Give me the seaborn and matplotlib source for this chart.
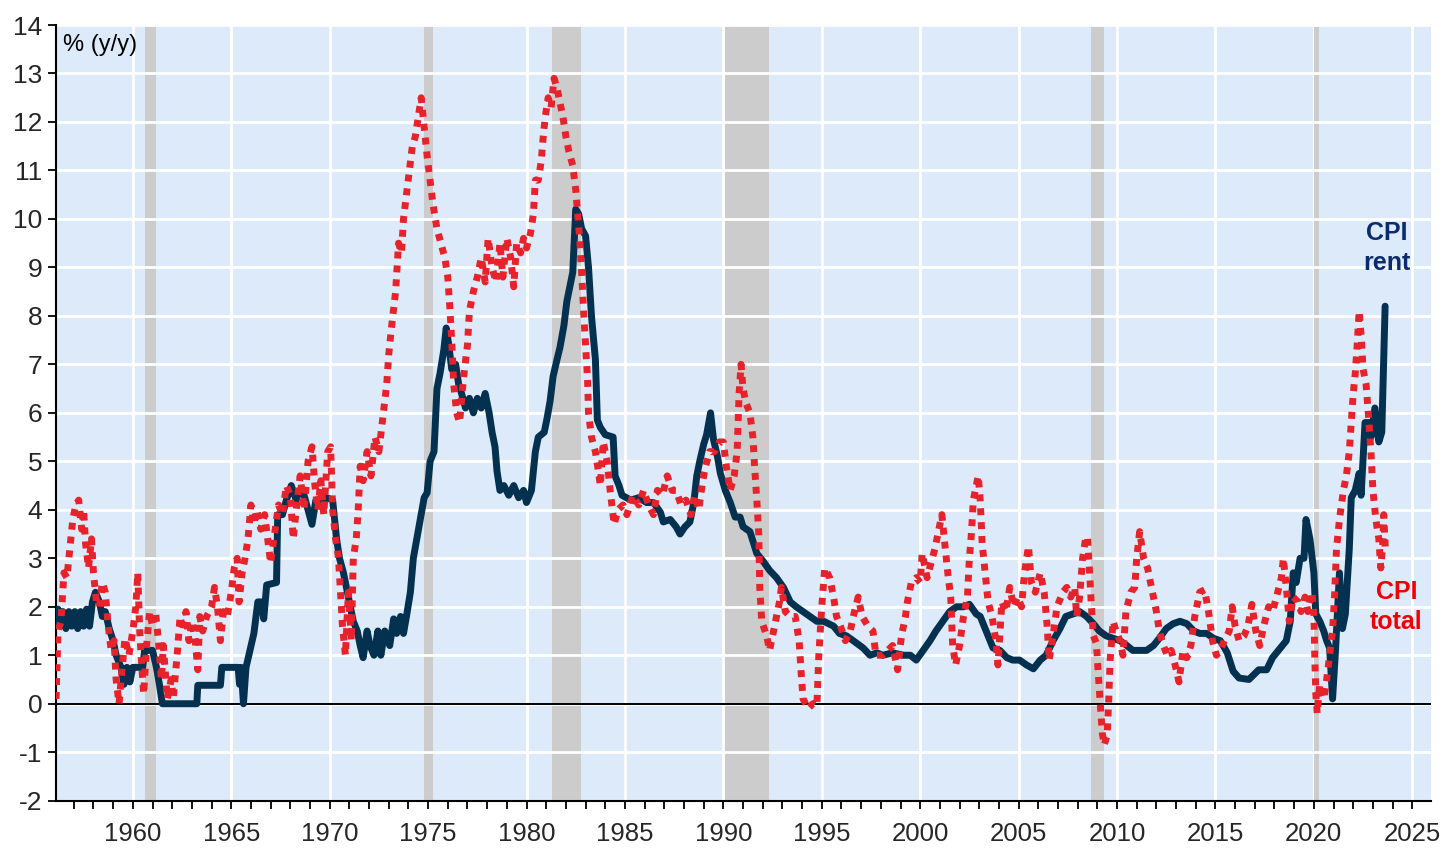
import numpy as np
import pandas as pd
import matplotlib
matplotlib.use("Agg")
import matplotlib.pyplot as plt
from matplotlib.ticker import MultipleLocator
import seaborn as sns

# CPI rent, % y/y (decimal years)
rent_year = [1956.10, 1956.20, 1956.30, 1956.45, 1956.60, 1956.75, 1956.90, 1957.05, 1957.20, 1957.35,
             1957.50, 1957.65, 1957.80, 1957.95, 1958.10, 1958.30, 1958.45, 1958.60, 1958.80, 1959.00,
             1959.15, 1959.40, 1959.55, 1959.70, 1959.85, 1960.00, 1960.50, 1960.60, 1961.00, 1961.20,
             1961.35, 1961.50, 1963.25, 1963.30, 1964.45, 1964.52, 1965.35, 1965.42, 1965.50, 1965.62,
             1965.75, 1965.95, 1966.15, 1966.35, 1966.55, 1966.65, 1966.80, 1967.30, 1967.36, 1967.60,
             1967.80, 1968.05, 1968.30, 1968.45, 1968.70, 1968.90, 1969.10, 1969.30, 1969.60, 1969.85,
             1970.15, 1970.35, 1970.50, 1970.70, 1970.90, 1971.05, 1971.20, 1971.40, 1971.55, 1971.70,
             1971.90, 1972.05, 1972.25, 1972.45, 1972.60, 1972.80, 1973.05, 1973.25, 1973.40, 1973.60,
             1973.75, 1973.90, 1974.10, 1974.25, 1974.45, 1974.60, 1974.80, 1974.95, 1975.10, 1975.30,
             1975.45, 1975.60, 1975.80, 1975.92, 1976.05, 1976.20, 1976.40, 1976.55, 1976.70, 1976.90,
             1977.10, 1977.30, 1977.50, 1977.70, 1977.90, 1978.10, 1978.25, 1978.40, 1978.50, 1978.65,
             1978.85, 1979.10, 1979.35, 1979.60, 1979.85, 1980.00, 1980.25, 1980.45, 1980.60, 1980.90,
             1981.05, 1981.20, 1981.35, 1981.55, 1981.70, 1981.90, 1982.05, 1982.20, 1982.35, 1982.50,
             1982.65, 1982.80, 1983.00, 1983.15, 1983.30, 1983.50, 1983.60, 1983.75, 1984.00, 1984.40,
             1984.50, 1984.70, 1984.85, 1985.30, 1985.70, 1986.10, 1986.45, 1986.80, 1986.95, 1987.30,
             1987.60, 1987.80, 1988.05, 1988.30, 1988.50, 1988.65, 1988.80, 1989.00, 1989.15, 1989.35,
             1989.50, 1989.70, 1989.85, 1990.10, 1990.35, 1990.60, 1990.85, 1991.00, 1991.35, 1991.70,
             1992.00, 1992.35, 1992.70, 1993.05, 1993.40, 1993.70, 1994.05, 1994.40, 1994.75, 1995.10,
             1995.60, 1995.90, 1996.25, 1996.60, 1997.10, 1997.45, 1997.80, 1998.10, 1998.60, 1999.15,
             1999.50, 1999.80, 2000.15, 2000.50, 2000.80, 2001.15, 2001.50, 2001.85, 2002.20, 2002.50,
             2002.85, 2003.05, 2003.40, 2003.70, 2004.05, 2004.40, 2004.70, 2005.05, 2005.40, 2005.75,
             2006.10, 2006.40, 2006.75, 2007.10, 2007.40, 2007.75, 2008.10, 2008.45, 2008.80, 2009.10,
             2009.45, 2009.80, 2010.15, 2010.50, 2010.80, 2011.15, 2011.50, 2011.85, 2012.15, 2012.50,
             2012.85, 2013.20, 2013.55, 2013.90, 2014.20, 2014.55, 2014.90, 2015.25, 2015.60, 2015.90,
             2016.20, 2016.70, 2017.20, 2017.60, 2017.90, 2018.30, 2018.60, 2018.80, 2018.95, 2019.10,
             2019.30, 2019.50, 2019.60, 2019.80, 2020.00, 2020.10, 2020.30, 2020.50, 2020.65, 2020.80,
             2020.95, 2021.10, 2021.30, 2021.45, 2021.60, 2021.80, 2021.90, 2022.10, 2022.30, 2022.40,
             2022.60, 2022.80, 2022.90, 2023.10, 2023.30, 2023.45, 2023.62]
rent_pct = [1.6, 1.95, 1.6, 1.9, 1.55, 1.9, 1.6, 1.9, 1.55, 1.9,
            1.6, 1.95, 1.6, 2.1, 2.3, 2.1, 1.8, 1.9, 1.55, 1.3,
            1.0, 0.75, 0.4, 0.75, 0.45, 0.75, 0.75, 1.1, 1.1, 0.75,
            0.4, 0.0, 0.0, 0.38, 0.38, 0.75, 0.75, 0.4, 0.75, 0.0,
            0.75, 1.1, 1.45, 2.1, 2.1, 1.75, 2.45, 2.5, 3.9, 3.9,
            4.2, 4.5, 4.2, 4.4, 4.3, 4.0, 3.7, 4.2, 4.1, 4.25,
            4.2, 3.4, 3.0, 2.7, 2.3, 2.0, 1.7, 1.5, 1.2, 0.95,
            1.5, 1.2, 1.0, 1.5, 1.0, 1.5, 1.2, 1.75, 1.45, 1.8,
            1.45, 1.8, 2.3, 3.0, 3.45, 3.8, 4.25, 4.35, 5.0, 5.2,
            6.5, 6.8, 7.3, 7.75, 7.4, 6.9, 7.0, 6.6, 6.4, 6.1,
            6.3, 6.0, 6.3, 6.1, 6.4, 6.0, 5.6, 5.3, 4.8, 4.4,
            4.5, 4.3, 4.5, 4.25, 4.4, 4.15, 4.4, 5.2, 5.5, 5.6,
            5.9, 6.25, 6.75, 7.1, 7.35, 7.8, 8.3, 8.6, 8.9, 10.2,
            10.1, 9.8, 9.65, 9.0, 8.0, 7.1, 5.85, 5.7, 5.55, 5.5,
            4.7, 4.5, 4.3, 4.2, 4.25, 4.15, 4.15, 3.95, 3.75, 3.8,
            3.65, 3.5, 3.65, 3.75, 4.15, 4.7, 5.0, 5.35, 5.55, 6.0,
            5.45, 5.1, 4.75, 4.4, 4.15, 3.85, 3.85, 3.65, 3.55, 3.1,
            2.95, 2.75, 2.6, 2.4, 2.1, 2.0, 1.9, 1.8, 1.7, 1.7,
            1.6, 1.45, 1.4, 1.3, 1.15, 1.0, 1.05, 1.0, 1.05, 1.0,
            1.0, 0.9, 1.1, 1.3, 1.5, 1.7, 1.9, 2.0, 2.0, 2.05,
            1.85, 1.8, 1.45, 1.15, 1.1, 0.95, 0.9, 0.9, 0.8, 0.72,
            0.9, 1.0, 1.3, 1.55, 1.8, 1.85, 1.9, 1.8, 1.65, 1.5,
            1.4, 1.35, 1.3, 1.2, 1.1, 1.1, 1.1, 1.2, 1.35, 1.55,
            1.65, 1.7, 1.65, 1.5, 1.45, 1.45, 1.35, 1.3, 1.05, 0.67,
            0.53, 0.5, 0.7, 0.7, 0.95, 1.15, 1.3, 1.7, 2.7, 2.5,
            3.0, 3.0, 3.8, 3.4, 2.7, 1.85, 1.7, 1.5, 1.3, 1.15,
            0.1, 1.1, 2.7, 1.55, 1.85, 3.2, 4.25, 4.4, 4.75, 4.3,
            5.8, 5.8, 5.5, 6.1, 5.4, 5.6, 8.2]

# CPI total, % y/y
total_year = [1956.10, 1956.20, 1956.35, 1956.50, 1956.65, 1956.80, 1956.95, 1957.10, 1957.25, 1957.40,
              1957.50, 1957.60, 1957.75, 1957.90, 1958.00, 1958.15, 1958.30, 1958.45, 1958.60, 1958.75,
              1958.90, 1959.05, 1959.15, 1959.30, 1959.45, 1959.60, 1959.80, 1960.00, 1960.15, 1960.25,
              1960.35, 1960.45, 1960.55, 1960.70, 1960.85, 1961.00, 1961.15, 1961.30, 1961.45, 1961.55,
              1961.75, 1961.95, 1962.05, 1962.25, 1962.40, 1962.55, 1962.70, 1962.85, 1963.00, 1963.15,
              1963.30, 1963.40, 1963.55, 1963.75, 1964.00, 1964.15, 1964.30, 1964.45, 1964.60, 1964.80,
              1965.00, 1965.15, 1965.30, 1965.40, 1965.55, 1965.70, 1965.85, 1966.00, 1966.15, 1966.30,
              1966.50, 1966.70, 1966.85, 1967.00, 1967.20, 1967.40, 1967.60, 1967.80, 1968.00, 1968.15,
              1968.30, 1968.50, 1968.70, 1968.90, 1969.10, 1969.25, 1969.40, 1969.55, 1969.70, 1969.90,
              1970.05, 1970.15, 1970.30, 1970.45, 1970.55, 1970.65, 1970.80, 1970.95, 1971.10, 1971.20,
              1971.35, 1971.45, 1971.55, 1971.70, 1971.90, 1972.10, 1972.30, 1972.50, 1972.70, 1972.90,
              1973.00, 1973.15, 1973.35, 1973.50, 1973.65, 1973.75, 1973.90, 1974.05, 1974.20, 1974.35,
              1974.50, 1974.65, 1974.80, 1974.95, 1975.10, 1975.25, 1975.45, 1975.65, 1975.85, 1976.00,
              1976.10, 1976.20, 1976.30, 1976.45, 1976.60, 1976.75, 1976.85, 1977.00, 1977.10, 1977.30,
              1977.50, 1977.70, 1977.90, 1978.05, 1978.25, 1978.45, 1978.65, 1978.80, 1979.00, 1979.20,
              1979.35, 1979.50, 1979.70, 1979.85, 1980.00, 1980.20, 1980.35, 1980.45, 1980.60, 1980.75,
              1980.85, 1980.95, 1981.10, 1981.25, 1981.40, 1981.55, 1981.70, 1981.85, 1982.00, 1982.15,
              1982.35, 1982.50, 1982.60, 1982.70, 1982.80, 1982.90, 1983.00, 1983.10, 1983.15, 1983.30,
              1983.50, 1983.65, 1983.75, 1983.90, 1984.10, 1984.25, 1984.45, 1984.65, 1984.90, 1985.10,
              1985.40, 1985.70, 1985.95, 1986.20, 1986.45, 1986.65, 1986.90, 1987.15, 1987.40, 1987.60,
              1987.85, 1988.10, 1988.35, 1988.55, 1988.75, 1988.95, 1989.10, 1989.30, 1989.55, 1989.80,
              1990.00, 1990.15, 1990.35, 1990.55, 1990.70, 1990.80, 1990.90, 1991.00, 1991.15, 1991.35,
              1991.50, 1991.60, 1991.70, 1991.80, 1991.85, 1991.95, 1992.20, 1992.35, 1992.60, 1992.85,
              1992.95, 1993.15, 1993.40, 1993.65, 1993.85, 1993.95, 1994.05, 1994.30, 1994.55, 1994.75,
              1994.85, 1995.00, 1995.15, 1995.40, 1995.60, 1995.75, 1995.95, 1996.20, 1996.45, 1996.60,
              1996.85, 1997.05, 1997.35, 1997.60, 1997.75, 1998.10, 1998.35, 1998.60, 1998.85, 1999.05,
              1999.25, 1999.35, 1999.55, 1999.80, 2000.00, 2000.10, 2000.35, 2000.55, 2000.75, 2000.95,
              2001.10, 2001.25, 2001.40, 2001.55, 2001.65, 2001.80, 2002.00, 2002.20, 2002.40, 2002.50,
              2002.60, 2002.70, 2002.85, 2002.95, 2003.05, 2003.15, 2003.30, 2003.45, 2003.65, 2003.85,
              2003.95, 2004.15, 2004.35, 2004.55, 2004.75, 2004.95, 2005.15, 2005.30, 2005.50, 2005.65,
              2005.85, 2006.10, 2006.30, 2006.45, 2006.55, 2006.75, 2006.95, 2007.25, 2007.45, 2007.65,
              2007.85, 2007.95, 2008.10, 2008.25, 2008.40, 2008.50, 2008.60, 2008.70, 2008.80, 2008.95,
              2009.05, 2009.15, 2009.25, 2009.35, 2009.50, 2009.58, 2009.65, 2009.80, 2009.95, 2010.15,
              2010.30, 2010.45, 2010.70, 2010.90, 2011.00, 2011.15, 2011.35, 2011.55, 2011.75, 2012.00,
              2012.15, 2012.35, 2012.55, 2012.75, 2012.95, 2013.15, 2013.35, 2013.55, 2013.75, 2013.95,
              2014.20, 2014.45, 2014.65, 2014.85, 2015.05, 2015.25, 2015.45, 2015.70, 2015.85, 2016.00,
              2016.20, 2016.45, 2016.65, 2016.85, 2017.05, 2017.25, 2017.45, 2017.70, 2017.90, 2018.10,
              2018.35, 2018.45, 2018.60, 2018.75, 2018.95, 2019.20, 2019.35, 2019.55, 2019.70, 2019.90,
              2020.00, 2020.05, 2020.10, 2020.17, 2020.30, 2020.50, 2020.65, 2020.80, 2020.95, 2021.05,
              2021.15, 2021.30, 2021.50, 2021.65, 2021.80, 2021.90, 2022.00, 2022.10, 2022.20, 2022.30,
              2022.40, 2022.50, 2022.65, 2022.80, 2022.90, 2023.00, 2023.15, 2023.30, 2023.40, 2023.50,
              2023.55, 2023.63]
total_pct = [0.1, 1.5, 1.7, 2.7, 2.6, 3.2, 3.8, 4.1, 4.2, 3.6,
             4.0, 3.3, 2.8, 3.4, 2.7, 2.1, 2.0, 2.5, 2.3, 1.6,
             1.1, 1.3, 0.5, 0.0, 0.7, 1.35, 1.0, 1.5, 2.0, 2.7,
             1.5, 0.8, 0.2, 1.2, 1.9, 1.6, 1.9, 1.3, 0.5, 1.2,
             0.1, 0.5, 0.1, 1.0, 1.8, 1.5, 1.9, 1.3, 1.7, 1.4,
             0.7, 1.8, 1.5, 1.8, 2.0, 2.4, 2.0, 1.3, 1.9, 1.8,
             2.3, 2.8, 3.0, 2.1, 2.7, 3.0, 3.4, 4.1, 3.7, 4.0,
             3.6, 3.9, 3.4, 2.9, 3.5, 4.1, 3.9, 4.5, 4.3, 3.4,
             4.0, 4.7, 4.0, 5.0, 5.3, 4.5, 4.0, 4.6, 3.9, 5.2,
             5.3, 4.0, 3.4, 3.0, 2.3, 1.6, 1.0, 2.3, 1.3, 3.0,
             3.4, 4.0, 4.9, 4.6, 5.2, 4.7, 5.5, 5.2, 5.9, 6.6,
             7.2, 7.8, 8.5, 9.5, 9.3, 10.0, 10.5, 11.0, 11.5, 11.7,
             12.1, 12.5, 11.9, 11.3, 10.8, 10.3, 9.8, 9.5, 9.2, 8.8,
             8.2, 7.5, 6.6, 6.0, 5.8, 6.5, 6.9, 7.4, 8.1, 8.5,
             8.8, 9.2, 8.7, 9.6, 9.0, 8.7, 9.5, 8.8, 9.6, 9.2,
             8.6, 9.5, 9.3, 9.6, 9.4, 9.7, 10.1, 10.8, 10.8, 11.2,
             11.7, 12.1, 12.5, 12.3, 12.9, 12.7, 12.4, 12.1, 11.7, 11.4,
             11.1, 10.6, 10.1, 9.6, 8.9, 8.1, 7.4, 6.7, 6.0, 5.5,
             5.2, 4.8, 4.5, 5.4, 5.0, 4.4, 3.7, 4.0, 4.1, 3.9,
             4.3, 4.1, 4.4, 4.1, 3.9, 4.4, 4.3, 4.7, 4.4, 4.4,
             4.1, 4.2, 3.9, 4.3, 4.0, 4.6, 4.9, 5.2, 5.2, 5.4,
             5.4, 4.9, 4.4, 4.7, 5.2, 6.4, 7.0, 6.5, 6.2, 6.0,
             5.5, 4.8, 4.2, 3.5, 2.4, 1.7, 1.4, 1.1, 1.6, 2.1,
             2.4, 1.9, 1.8, 1.8, 1.3, 0.65, 0.1, -0.1, 0.0, -0.05,
             1.0, 2.0, 2.8, 2.6, 2.2, 1.8, 1.6, 1.3, 1.5, 1.8,
             2.2, 1.8, 1.6, 1.5, 1.0, 1.0, 1.1, 1.2, 0.7, 1.4,
             1.8, 2.1, 2.5, 2.6, 2.5, 3.1, 2.6, 2.9, 3.2, 3.6,
             3.9, 3.3, 2.7, 2.2, 1.2, 0.8, 1.2, 1.8, 2.2, 3.0,
             3.5, 4.2, 4.5, 4.7, 4.2, 3.3, 2.7, 2.1, 1.8, 1.3,
             0.8, 2.1, 1.9, 2.4, 2.0, 2.2, 2.0, 2.7, 3.25, 2.5,
             2.3, 2.7, 2.3, 1.6, 0.9, 1.4, 2.0, 2.3, 2.4, 2.2,
             2.4, 1.8, 2.2, 3.0, 3.4, 3.45, 2.75, 2.0, 1.4, 1.25,
             0.6, 0.0, -0.6, -0.85, -0.65, 0.1, 0.9, 1.7, 1.5, 1.3,
             1.0, 1.9, 2.3, 2.4, 3.0, 3.55, 3.0, 2.8, 2.4, 1.9,
             1.5, 1.2, 1.0, 1.1, 0.8, 0.45, 1.1, 0.95, 1.2, 1.8,
             2.3, 2.35, 1.9, 1.3, 1.0, 1.1, 1.3, 1.5, 2.0, 1.6,
             1.3, 1.4, 1.6, 2.05, 1.5, 1.2, 1.6, 2.0, 1.9, 2.2,
             2.6, 3.0, 2.4, 1.7, 2.2, 2.1, 1.9, 2.2, 1.9, 2.3,
             1.9, 0.9, 0.2, -0.2, 0.4, 0.1, 0.5, 1.0, 1.5, 2.2,
             3.2, 3.8, 4.4, 4.7, 5.2, 5.8, 6.4, 6.8, 7.4, 8.1,
             7.6, 6.9, 6.6, 5.8, 5.2, 4.4, 3.8, 3.4, 2.8, 3.3,
             3.9, 3.2]

# shaded periods
shade_start = [1960.63, 1974.80, 1981.30, 1990.10, 2008.67, 2020.02]
shade_end = [1961.18, 1975.25, 1982.77, 1992.30, 2009.36, 2020.27]

x_ticks = list(range(1960, 2030, 5))
y_ticks = list(range(-2, 15))

navy = "#04314F"
red = "#E8222B"

sns.set_style("white")
plt.rcParams['font.family'] = ['Liberation Sans', 'DejaVu Sans']

fig = plt.figure(figsize=(14.45, 8.48), dpi=100)
ax = fig.add_axes([0.0388, 0.0558, 0.9515, 0.9147])
ax.set_facecolor("#DDEAF9")

# vertical grid sits under the shading, horizontal grid over it
ax.xaxis.set_zorder(0.1)
ax.yaxis.set_zorder(0.3)
ax.grid(True, which="major", color="white", lw=2)

for s, e in zip(shade_start, shade_end):
    ax.axvspan(s, e, color="#CCCCCC", lw=0, zorder=0.2)

ax.axhline(0, color="black", lw=1.4, zorder=1.5)

rent = pd.DataFrame({"year": rent_year, "pct": rent_pct})
total = pd.DataFrame({"year": total_year, "pct": total_pct})

sns.lineplot(data=rent, x="year", y="pct", ax=ax, color=navy, lw=5,
             estimator=None, sort=False, legend=False, zorder=3)
sns.lineplot(data=total, x="year", y="pct", ax=ax, color=red, lw=5,
             linestyle=(0, (1, 1)), estimator=None, sort=False, legend=False, zorder=4)

ax.set_xlim(1956.1, 2025.95)
ax.set_ylim(-2, 14)
ax.set_xticks(x_ticks)
ax.set_xticklabels([str(t) for t in x_ticks])
ax.xaxis.set_minor_locator(MultipleLocator(1))
ax.set_yticks(y_ticks)
ax.set_yticklabels([str(t) for t in y_ticks])
ax.set_xlabel("")
ax.set_ylabel("")

for side in ["top", "right"]:
    ax.spines[side].set_visible(False)
for side in ["left", "bottom"]:
    ax.spines[side].set_color("black")
    ax.spines[side].set_linewidth(1.5)

ax.tick_params(axis="x", which="both", direction="out", length=6, width=1.3,
               color="black", labelsize=18.5, pad=9, bottom=True)
ax.tick_params(axis="y", which="major", direction="out", length=6, width=1.3,
               color="black", labelsize=19, pad=4, left=True)

ax.text(0.005, 0.974, "% (y/y)", transform=ax.transAxes, fontsize=17,
        ha="left", va="center", color="black")
ax.text(2023.7, 9.4, "CPI\nrent", fontsize=18, fontweight="bold", color="#0B2B6E",
        ha="center", va="center", linespacing=1.3)
ax.text(2024.2, 2.0, "CPI\ntotal", fontsize=18, fontweight="bold", color="#F00000",
        ha="center", va="center", linespacing=1.3)

fig.savefig("out.png", dpi=100)
